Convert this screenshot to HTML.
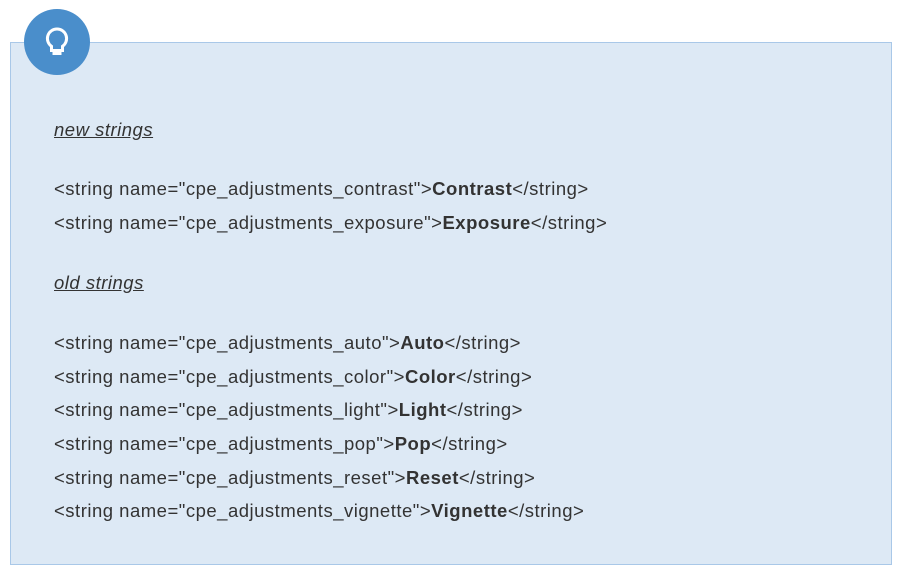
<!DOCTYPE html>
<html><head><meta charset="utf-8"><style>
body{margin:0;width:903px;height:581px;background:#fff;position:relative;font-family:"Liberation Sans",sans-serif;color:#333;}
.box{position:absolute;left:10px;top:42px;width:880px;height:521px;background:#dde9f5;border:1px solid #a9c8e8;}
.c{position:absolute;left:24px;top:9px;width:66px;height:66px;border-radius:50%;background:#4a8ecb;}
.t{position:absolute;left:54px;font-size:18.5px;white-space:nowrap;line-height:20px;letter-spacing:0.5px;}
.h{font-style:italic;text-decoration:underline;}
b{font-weight:bold;}
</style></head><body>
<div class="box"></div>
<div class="c"><svg width="66" height="66" viewBox="0 0 66 66"><path d="M33 20a9.5 9.5 0 0 0-5.5 17.3v4.2h11v-4.2A9.5 9.5 0 0 0 33 20z" fill="none" stroke="#fff" stroke-width="3"/><rect x="28.5" y="41" width="9" height="5" fill="#fff"/></svg></div>
<div class="t h" style="top:120px">new strings</div>
<div class="t" style="top:179px">&lt;string name="cpe_adjustments_contrast"&gt;<b>Contrast</b>&lt;/string&gt;</div>
<div class="t" style="top:213px">&lt;string name="cpe_adjustments_exposure"&gt;<b>Exposure</b>&lt;/string&gt;</div>
<div class="t h" style="top:273px">old strings</div>
<div class="t" style="top:333px">&lt;string name="cpe_adjustments_auto"&gt;<b>Auto</b>&lt;/string&gt;</div>
<div class="t" style="top:367px">&lt;string name="cpe_adjustments_color"&gt;<b>Color</b>&lt;/string&gt;</div>
<div class="t" style="top:400px">&lt;string name="cpe_adjustments_light"&gt;<b>Light</b>&lt;/string&gt;</div>
<div class="t" style="top:434px">&lt;string name="cpe_adjustments_pop"&gt;<b>Pop</b>&lt;/string&gt;</div>
<div class="t" style="top:468px">&lt;string name="cpe_adjustments_reset"&gt;<b>Reset</b>&lt;/string&gt;</div>
<div class="t" style="top:501px">&lt;string name="cpe_adjustments_vignette"&gt;<b>Vignette</b>&lt;/string&gt;</div>
</body></html>
